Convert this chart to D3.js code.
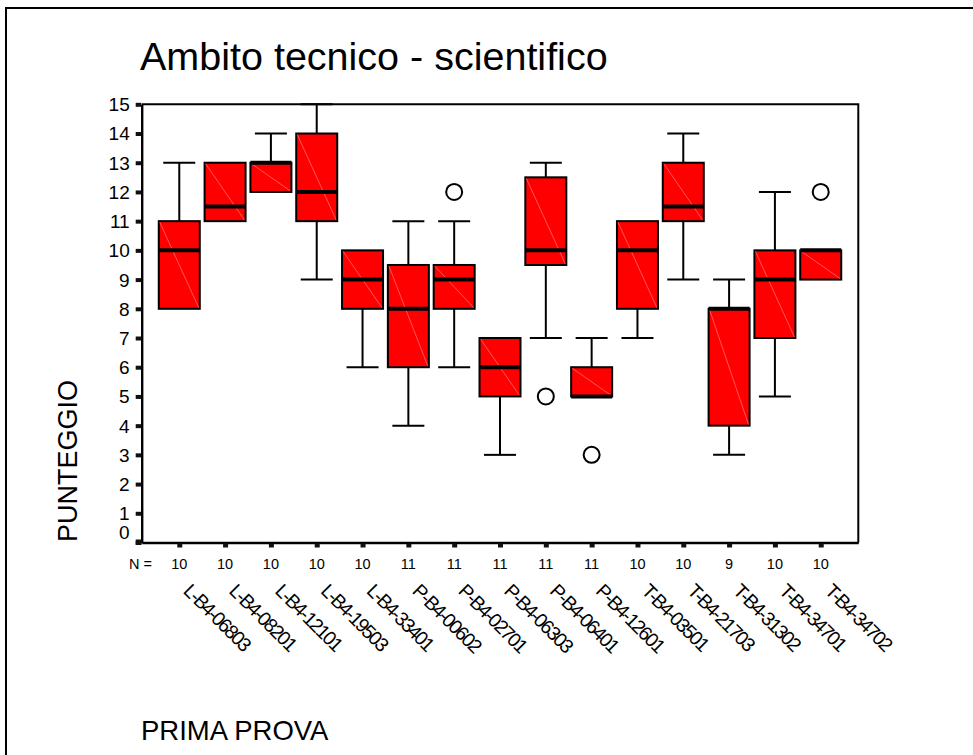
<!DOCTYPE html>
<html>
<head>
<meta charset="utf-8">
<script src="https://cdn.jsdelivr.net/npm/d3@7/dist/d3.min.js"></script>
<style>
  html, body { margin: 0; padding: 0; background: #fff; }
  svg { display: block; }
  text { font-family: "Liberation Sans", Arial, sans-serif; fill: #000; }
</style>
</head>
<body>
<svg id="chart" width="973" height="755"></svg>
<script>
// Exam codes (PRIMA PROVA) and the five-number summaries of their scores
const categories = ["L-B4-06803", "L-B4-08201", "L-B4-12101", "L-B4-19503", "L-B4-33401",
  "P-B4-00602", "P-B4-02701", "P-B4-06303", "P-B4-06401", "P-B4-12601",
  "T-B4-03501", "T-B4-21703", "T-B4-31302", "T-B4-34701", "T-B4-34702"];
const counts      = [10, 10, 10, 10, 10, 11, 11, 11, 11, 11, 10, 10, 9, 10, 10];
const whiskerLow  = [8, 11, 12, 9, 6, 4, 6, 3, 7, 5, 7, 9, 3, 5, 9];
const q1          = [8, 11, 12, 11, 8, 6, 8, 5, 9.5, 5, 8, 11, 4, 7, 9];
const medians     = [10, 11.5, 13, 12, 9, 8, 9, 6, 10, 5, 10, 11.5, 8, 9, 10];
const q3          = [11, 13, 13, 14, 10, 9.5, 9.5, 7, 12.5, 6, 11, 13, 8, 10, 10];
const whiskerHigh = [13, 13, 14, 15, 10, 11, 11, 7, 13, 7, 11, 14, 9, 12, 10];
const outliers    = [[], [], [], [], [], [], [12], [], [5], [3], [], [], [], [], [12]];
const yTicks      = d3.range(0, 16);

const svg = d3.select("#chart");

// page frame
svg.append("path")
  .attr("d", "M6,760 L6,8 L980,8")
  .attr("fill", "none").attr("stroke", "#000").attr("stroke-width", 2);

const plot = { left: 141.7, right: 858.3, top: 104.3, bottom: 542.5 };

const x = d3.scalePoint().domain(categories).range([plot.left, plot.right]).padding(0.82);
const y = d3.scaleLinear().domain([0, 15]).range([plot.bottom, plot.top]);

// title
svg.append("text").attr("x", 140).attr("y", 70)
  .attr("font-size", 39.5).text("Ambito tecnico - scientifico");

// plot frame (top and right)
svg.append("path")
  .attr("d", `M${plot.left},${plot.top} L${plot.right},${plot.top} L${plot.right},${plot.bottom}`)
  .attr("fill", "none").attr("stroke", "#000").attr("stroke-width", 2);

// y axis
const yAxis = svg.append("g").attr("transform", `translate(${plot.left},0)`)
  .call(d3.axisLeft(y).tickValues(yTicks).tickSize(0).tickPadding(12).tickFormat(d3.format("d")));
yAxis.select(".domain").attr("stroke", "#000").attr("stroke-width", 2.4);
yAxis.selectAll(".tick text").attr("font-size", 19).attr("fill", "#000")
  .attr("font-family", "Liberation Sans, Arial, sans-serif")
  .attr("dy", d => d === 0 ? "-0.2em" : "0.34em");
yAxis.selectAll(".tick").append("rect")
  .attr("x", -6).attr("y", -2).attr("width", 5.5).attr("height", 4).attr("fill", "#111");

// x axis
const xAxis = svg.append("g").attr("transform", `translate(0,${plot.bottom})`)
  .call(d3.axisBottom(x).tickSize(0).tickFormat(""));
xAxis.select(".domain").attr("stroke", "#000").attr("stroke-width", 2.4);
xAxis.selectAll(".tick").append("rect")
  .attr("x", -2.5).attr("y", 1).attr("width", 5).attr("height", 4).attr("fill", "#111");
svg.append("rect").attr("x", plot.left - 6).attr("y", plot.bottom - 3)
  .attr("width", 6).attr("height", 5).attr("fill", "#111");

// N = counts
svg.append("text").attr("x", 152).attr("y", 569).attr("text-anchor", "end")
  .attr("font-size", 14.5).text("N =");
svg.append("g").selectAll("text").data(categories).join("text")
  .attr("x", d => x(d)).attr("y", 569).attr("text-anchor", "middle")
  .attr("font-size", 14.5).text((d, i) => counts[i]);

// rotated category labels
svg.append("g").selectAll("text").data(categories).join("text")
  .attr("transform", d => `translate(${x(d) + 3},${592}) rotate(45)`)
  .attr("font-size", 19.5).attr("letter-spacing", "-1.7px").text(d => d);

// boxes
const boxW = 41, capW = 32;
const g = svg.append("g").selectAll("g").data(categories).join("g")
  .attr("transform", d => `translate(${x(d)},0)`);

g.append("line").attr("x1", 0).attr("x2", 0)
  .attr("y1", (d, i) => y(whiskerHigh[i])).attr("y2", (d, i) => y(q3[i]))
  .attr("stroke", "#000").attr("stroke-width", 2);
g.append("line").attr("x1", 0).attr("x2", 0)
  .attr("y1", (d, i) => y(q1[i])).attr("y2", (d, i) => y(whiskerLow[i]))
  .attr("stroke", "#000").attr("stroke-width", 2);
g.filter((d, i) => whiskerHigh[i] > q3[i]).append("line")
  .attr("x1", -capW / 2).attr("x2", capW / 2)
  .attr("y1", d => y(whiskerHigh[categories.indexOf(d)]))
  .attr("y2", d => y(whiskerHigh[categories.indexOf(d)]))
  .attr("stroke", "#000").attr("stroke-width", 2);
g.filter((d, i) => whiskerLow[i] < q1[i]).append("line")
  .attr("x1", -capW / 2).attr("x2", capW / 2)
  .attr("y1", d => y(whiskerLow[categories.indexOf(d)]))
  .attr("y2", d => y(whiskerLow[categories.indexOf(d)]))
  .attr("stroke", "#000").attr("stroke-width", 2);

g.append("rect")
  .attr("x", -boxW / 2).attr("width", boxW)
  .attr("y", (d, i) => y(q3[i])).attr("height", (d, i) => y(q1[i]) - y(q3[i]))
  .attr("fill", "#ff0000").attr("stroke", "#000").attr("stroke-width", 2);
// faint fill seam across each box
g.append("line")
  .attr("x1", -boxW / 2 + 1).attr("x2", boxW / 2 - 1)
  .attr("y1", (d, i) => y(q3[i]) + 1).attr("y2", (d, i) => y(q1[i]) - 1)
  .attr("stroke", "#ff9090").attr("stroke-width", 0.6);
g.append("line")
  .attr("x1", -boxW / 2).attr("x2", boxW / 2)
  .attr("y1", (d, i) => y(medians[i])).attr("y2", (d, i) => y(medians[i]))
  .attr("stroke", "#000").attr("stroke-width", 4);

// outliers
g.each(function (d, i) {
  d3.select(this).selectAll("circle.out").data(outliers[i]).join("circle")
    .attr("class", "out").attr("cx", 0).attr("cy", v => y(v)).attr("r", 8)
    .attr("fill", "#fff").attr("stroke", "#000").attr("stroke-width", 2);
});

// axis titles
svg.append("text").attr("transform", "translate(77,461) rotate(-90)")
  .attr("text-anchor", "middle").attr("font-size", 27).text("PUNTEGGIO");
svg.append("text").attr("x", 141).attr("y", 740)
  .attr("font-size", 27.5).text("PRIMA PROVA");
</script>
</body>
</html>
